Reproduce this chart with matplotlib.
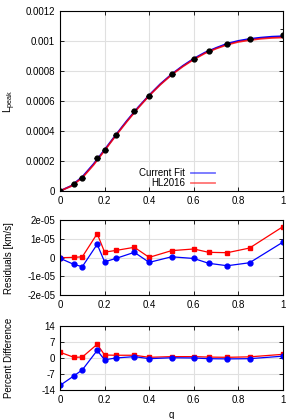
import matplotlib
matplotlib.use("Agg")
import matplotlib.pyplot as plt

plt.rcParams["font.family"] = ["Liberation Sans", "DejaVu Sans"]
plt.rcParams["font.size"] = 7
plt.rcParams["axes.unicode_minus"] = False

# simulation points
q = [0.0, 0.0625, 0.1, 0.1667, 0.2, 0.25, 0.3333, 0.4, 0.5, 0.6, 0.6667, 0.75, 0.85, 1.0]
lpeak = [0.0, 4.67e-5, 8.89e-5, 2.18e-4, 2.73e-4, 3.73e-4, 5.31e-4, 6.36e-4,
         7.78e-4, 8.82e-4, 9.31e-4, 9.78e-4, 1.011e-3, 1.04e-3]
lpeak_err = [0, 0, 0, 0, 0, 0, 0, 0, 0, 0, 0, 0, 0, 3.8e-5]

# fit curves
q_fine = [0.0, 0.05, 0.1, 0.15, 0.2, 0.25, 0.3, 0.35, 0.4, 0.45, 0.5,
          0.55, 0.6, 0.65, 0.7, 0.75, 0.8, 0.85, 0.9, 0.95, 1.0]
fit_cur = [0.0, 3.4e-5, 9.37e-5, 1.79e-4, 2.75e-4, 3.73e-4, 4.68e-4, 5.57e-4,
           6.385e-4, 7.13e-4, 7.775e-4, 8.335e-4, 8.824e-4, 9.23e-4, 9.54e-4,
           9.823e-4, 1.0008e-3, 1.0137e-3, 1.0222e-3, 1.0285e-3, 1.0316e-3]
fit_hl = [0.0, 3.2e-5, 8.84e-5, 1.73e-4, 2.70e-4, 3.69e-4, 4.63e-4, 5.53e-4,
          6.358e-4, 7.09e-4, 7.742e-4, 8.29e-4, 8.773e-4, 9.18e-4, 9.49e-4,
          9.753e-4, 9.94e-4, 1.0058e-3, 1.0148e-3, 1.0205e-3, 1.0233e-3]

res_cur = [-0.3e-6, -3.6e-6, -4.8e-6, 7.2e-6, -2.2e-6, -0.4e-6, 2.9e-6, -2.5e-6,
           0.5e-6, -0.4e-6, -3.0e-6, -4.3e-6, -2.7e-6, 8.4e-6]
res_hl = [0.0, 0.2e-6, 0.5e-6, 12.9e-6, 3.0e-6, 3.9e-6, 5.6e-6, 0.2e-6,
          3.8e-6, 4.7e-6, 2.9e-6, 2.7e-6, 5.2e-6, 16.7e-6]

pct_cur = [-12.0, -7.8, -5.2, 3.3, -0.8, 0.0, 0.6, -0.3, 0.1, 0.0, -0.3, -0.4, -0.3, 0.8]
pct_hl = [2.5, 0.3, 0.4, 6.0, 1.3, 1.2, 1.2, 0.3, 0.6, 0.6, 0.4, 0.3, 0.5, 1.6]

xticks = [0, 0.2, 0.4, 0.6, 0.8, 1.0]
xticklabels = ["0", "0.2", "0.4", "0.6", "0.8", "1"]

BLUE = "#0000ff"
RED = "#ff0000"
GRID = "#e0e0e0"

fig = plt.figure(figsize=(2.99, 4.19), dpi=100)
ax1 = fig.add_axes([0.2007, 0.5442, 0.7458, 0.4296])
ax2 = fig.add_axes([0.2007, 0.2960, 0.7458, 0.1778])
ax3 = fig.add_axes([0.2007, 0.0692, 0.7458, 0.1528])


def style(ax, labelx=-0.205):
    ax.set_xlim(0, 1)
    ax.set_xticks(xticks)
    ax.set_xticklabels(xticklabels)
    ax.grid(True, color=GRID, linewidth=0.8)
    ax.set_axisbelow(True)
    ax.tick_params(direction="in", length=3, width=0.6, top=True, right=True,
                   pad=3.5, colors="black")
    for s in ax.spines.values():
        s.set_linewidth(0.8)
    ax.yaxis.set_label_coords(labelx, 0.5)


# top: L_peak
ax1.plot(q_fine, fit_cur, color=BLUE, lw=1.3, label="Current Fit")
ax1.plot(q_fine, fit_hl, color=RED, lw=1.3, alpha=0.85, label="HL2016")
ax1.errorbar(q, lpeak, yerr=lpeak_err, fmt="o", color="black", ms=3.5,
             capsize=2, elinewidth=0.6, capthick=0.6, zorder=5)
ax1.set_ylim(0, 0.0012)
ax1.set_yticks([0, 0.0002, 0.0004, 0.0006, 0.0008, 0.001, 0.0012])
ax1.set_yticklabels(["0", "0.0002", "0.0004", "0.0006", "0.0008", "0.001", "0.0012"])
ax1.set_ylabel(r"L$_{\mathregular{peak}}$", fontsize=7.5)
leg = ax1.legend(loc="lower right", bbox_to_anchor=(0.695, 0.015), frameon=False,
                 markerfirst=False, handlelength=2.5, handletextpad=0.6,
                 labelspacing=0.0, borderpad=0, borderaxespad=0, fontsize=7)
for h in leg.get_lines():
    h.set_alpha(0.55)
style(ax1, labelx=-0.19)

# middle: residuals
ax2.plot(q, res_hl, color=RED, lw=0.9, marker="s", ms=3.5)
ax2.plot(q, res_cur, color=BLUE, lw=0.9, marker="o", ms=3.5)
ax2.set_ylim(-2e-5, 2e-5)
ax2.set_yticks([-2e-5, -1e-5, 0, 1e-5, 2e-5])
ax2.set_yticklabels(["-2e-05", "-1e-05", "0", "1e-05", "2e-05"])
ax2.set_ylabel("Residuals [km/s]")
style(ax2)

# bottom: percent difference
ax3.plot(q, pct_hl, color=RED, lw=0.9, marker="s", ms=3.5)
ax3.plot(q, pct_cur, color=BLUE, lw=0.9, marker="o", ms=3.5)
ax3.set_ylim(-14, 14)
ax3.set_yticks([-14, -7, 0, 7, 14])
ax3.set_yticklabels(["-14", "-7", "0", "7", "14"])
ax3.set_ylabel("Percent Difference")
ax3.set_xlabel("q", labelpad=4)
style(ax3)

fig.savefig("out.png", dpi=100)
